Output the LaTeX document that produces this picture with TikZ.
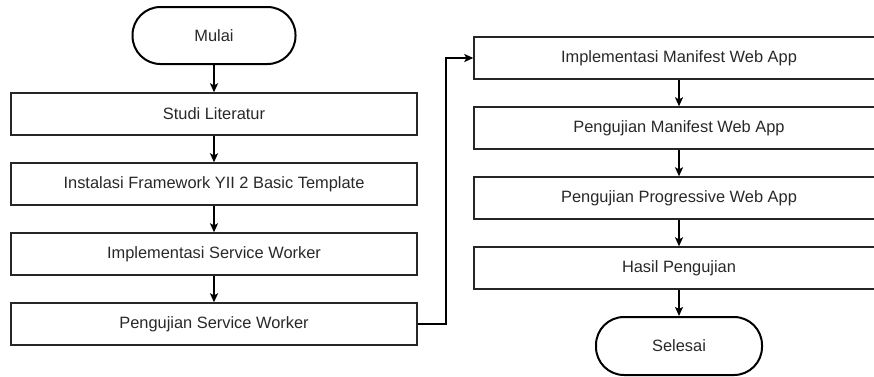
\documentclass[tikz,border=0pt]{standalone}
\usepackage{fontspec}
\setmainfont{Liberation Sans}
\usetikzlibrary{arrows.meta}
\definecolor{txt}{RGB}{40,40,40}
\begin{document}
\begin{tikzpicture}[x=1pt,y=-1pt,
  box/.style={draw=black!85, line width=1.4pt, minimum width=406pt, minimum height=42pt, inner sep=0pt, text=txt, font=\fontsize{16.4}{20}\selectfont},
  rbox/.style={box, minimum width=410pt},
  term/.style={draw=black, line width=2pt, rounded corners=28pt, minimum width=163pt, minimum height=57pt, inner sep=0pt, text=txt, font=\fontsize{16.4}{20}\selectfont},
  arr/.style={draw=black, line width=1.4pt, -{Stealth[length=9pt,width=8pt,inset=2pt]}}
]
\useasboundingbox (0,0) rectangle (874,376);
\clip (0,0) rectangle (874,376);
\node[term] (mulai) at (214,35.5) {Mulai};
\node[box] (b1) at (214,114) {Studi Literatur};
\node[box] (b2) at (214,184) {Instalasi Framework YII 2 Basic Template};
\node[box] (b3) at (214,254) {Implementasi Service Worker};
\node[box] (b4) at (214,324) {Pengujian Service Worker};
\node[rbox] (r1) at (679,58) {Implementasi Manifest Web App};
\node[rbox] (r2) at (679,128) {Pengujian Manifest Web App};
\node[rbox] (r3) at (679,198) {Pengujian Progressive Web App};
\node[rbox] (r4) at (679,268) {Hasil Pengujian};
\node[term, minimum width=166pt, minimum height=58pt] (selesai) at (679,346) {Selesai};
\coordinate (k) at (446,0);
\draw[arr] (mulai) -- (b1);
\draw[arr] (b1) -- (b2);
\draw[arr] (b2) -- (b3);
\draw[arr] (b3) -- (b4);
\draw[arr] (b4.east) -- (b4.east -| k) -- (r1.west -| k) -- (r1.west);
\draw[arr] (r1) -- (r2);
\draw[arr] (r2) -- (r3);
\draw[arr] (r3) -- (r4);
\draw[arr] (r4) -- (selesai);
\end{tikzpicture}
\end{document}
